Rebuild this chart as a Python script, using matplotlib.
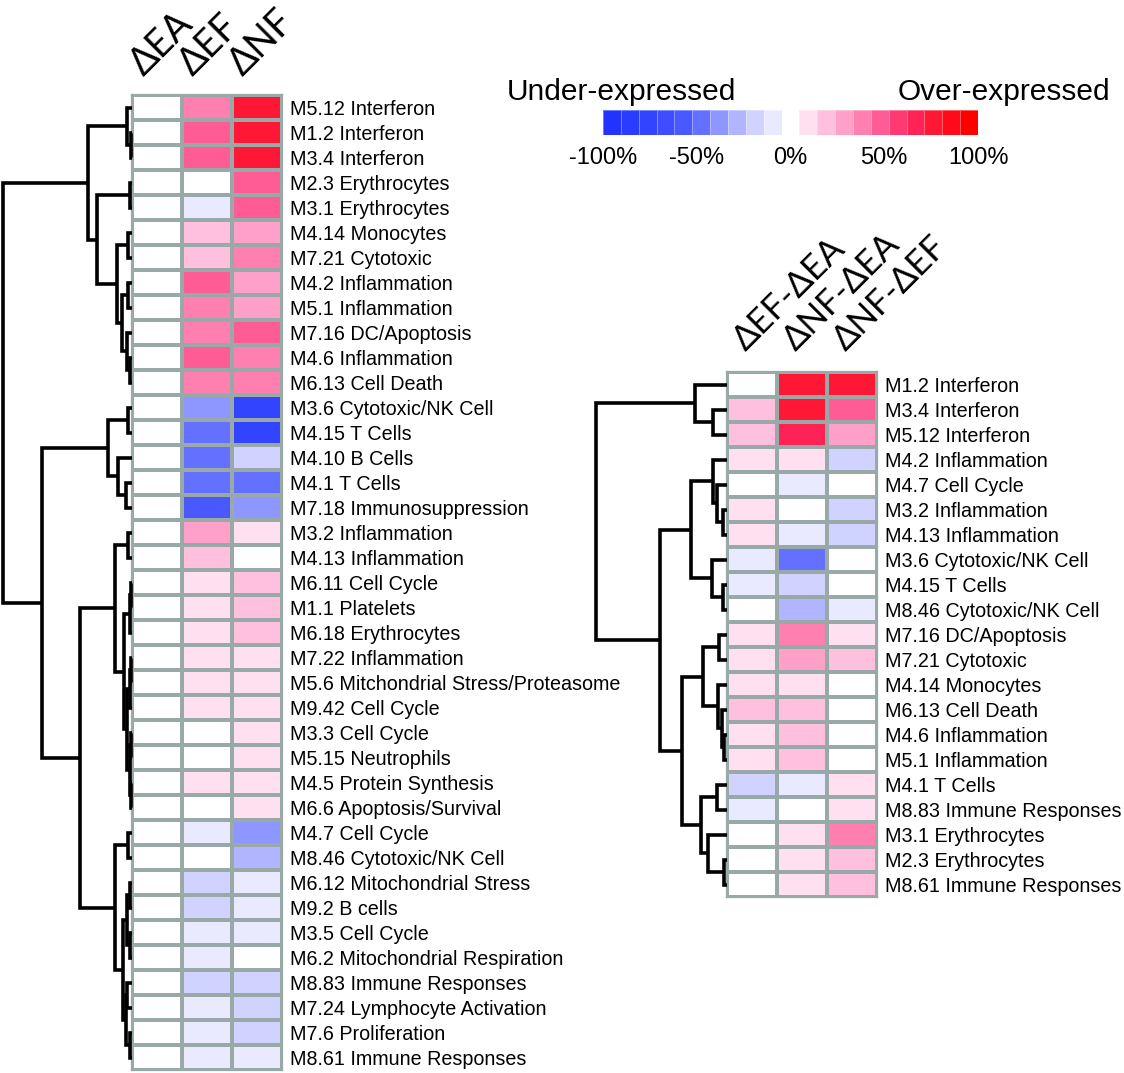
import numpy as np
import matplotlib.pyplot as plt
from matplotlib.colors import ListedColormap, BoundaryNorm
import matplotlib.transforms as mtransforms

plt.rcParams['font.family'] = ['Liberation Sans', 'DejaVu Sans']

W, H = 1124, 1073

# ---- left heatmap data (percent change) ----
left_modules = [
    "M5.12 Interferon", "M1.2 Interferon", "M3.4 Interferon", "M2.3 Erythrocytes",
    "M3.1 Erythrocytes", "M4.14 Monocytes", "M7.21 Cytotoxic", "M4.2 Inflammation",
    "M5.1 Inflammation", "M7.16 DC/Apoptosis", "M4.6 Inflammation", "M6.13 Cell Death",
    "M3.6 Cytotoxic/NK Cell", "M4.15 T Cells", "M4.10 B Cells", "M4.1 T Cells",
    "M7.18 Immunosuppression", "M3.2 Inflammation", "M4.13 Inflammation", "M6.11 Cell Cycle",
    "M1.1 Platelets", "M6.18 Erythrocytes", "M7.22 Inflammation",
    "M5.6 Mitchondrial Stress/Proteasome", "M9.42 Cell Cycle", "M3.3 Cell Cycle",
    "M5.15 Neutrophils", "M4.5 Protein Synthesis", "M6.6 Apoptosis/Survival",
    "M4.7 Cell Cycle", "M8.46 Cytotoxic/NK Cell", "M6.12 Mitochondrial Stress",
    "M9.2 B cells", "M3.5 Cell Cycle", "M6.2 Mitochondrial Respiration",
    "M8.83 Immune Responses", "M7.24 Lymphocyte Activation", "M7.6 Proliferation",
    "M8.61 Immune Responses",
]
left_cols = ["ΔEA", "ΔEF", "ΔNF"]
left_ea = [0] * 39
left_ef = [35, 45, 45, 0, -5, 15, 15, 45, 35, 35, 45, 35, -35, -45, -45, -45, -55, 25, 15,
           5, 5, 5, 5, 5, 5, 0, 0, 5, 0, -5, 0, -15, -15, -5, -5, -15, -5, -5, -5]
left_nf = [75, 75, 75, 45, 45, 25, 35, 25, 25, 45, 35, 35, -75, -75, -15, -45, -35, 5, 0,
           15, 15, 15, 5, 5, 5, 5, 5, 5, 5, -35, -25, -5, -5, -5, 0, -15, -15, -15, -5]

# ---- right heatmap data ----
right_modules = [
    "M1.2 Interferon", "M3.4 Interferon", "M5.12 Interferon", "M4.2 Inflammation",
    "M4.7 Cell Cycle", "M3.2 Inflammation", "M4.13 Inflammation", "M3.6 Cytotoxic/NK Cell",
    "M4.15 T Cells", "M8.46 Cytotoxic/NK Cell", "M7.16 DC/Apoptosis", "M7.21 Cytotoxic",
    "M4.14 Monocytes", "M6.13 Cell Death", "M4.6 Inflammation", "M5.1 Inflammation",
    "M4.1 T Cells", "M8.83 Immune Responses", "M3.1 Erythrocytes", "M2.3 Erythrocytes",
    "M8.61 Immune Responses",
]
right_cols = ["ΔEF-ΔEA", "ΔNF-ΔEA", "ΔNF-ΔEF"]
right_ef_ea = [0, 15, 15, 5, 0, 5, 5, -5, -5, 0, 5, 5, 5, 15, 5, 5, -15, -5, 0, 0, 0]
right_nf_ea = [75, 75, 65, 5, -5, 0, -5, -45, -15, -25, 35, 25, 5, 15, 15, 15, -5, 0, 5, 5, 5]
right_nf_ef = [75, 45, 25, -15, 0, -15, -15, 0, 0, -5, 5, 15, 0, 0, 0, 0, 5, 5, 35, 15, 15]

# ---- dendrograms: (child, child, merge height) with leaves = row index ----
left_tree = (
    ((0, (1, 2, 1), 5),
     ((3, 4, 2),
      ((5, 6, 4),
       ((7, 8, 4), (9, (10, 11, 2), 5), 10), 15), 35), 44),
    (((12, 13, 4), (14, (15, 16, 6), 14), 24),
     (((17, 18, 4),
       (((19, 20, 1), 21, 2),
        (((22, 23, 1), 24, 2), ((25, 26, 1), (27, 28, 1), 2), 5), 8), 17),
      ((29, 30, 4),
       (((31, 32, 2), (33, 34, 2), 5), ((35, 36, 5), (37, 38, 2), 6), 9), 17), 52), 90),
    129)

right_tree = (
    (0, (1, 2, 14), 32),
    (((3, (4, (5, 6, 4), 10), 14), (7, (8, 9, 4), 15), 36),
     (((10, 11, 8), (12, (13, (14, 15, 3), 5), 9), 24),
      ((16, 17, 10), (18, (19, 20, 3), 19), 26), 45), 67),
    131)

# ---- colour scale ----
blues = ["#2233ff", "#2a3cff", "#3344ff", "#3d4dff", "#4a58ff",
         "#6470ff", "#8e96ff", "#b1b5ff", "#d0d2ff", "#e9e9ff"]
reds = ["#ffe0f0", "#ffc0dd", "#ffa0c8", "#ff80b0", "#ff5c95",
        "#ff3a72", "#ff2255", "#ff1835", "#ff0a1a", "#ff0000"]
cmap = ListedColormap(blues + ["#ffffff"] + reds)
bounds = list(range(-100, -9, 10)) + [-1, 1] + list(range(10, 101, 10))
norm = BoundaryNorm(bounds, cmap.N)
legend_levels = list(range(-95, 0, 10)) + [0] + list(range(5, 100, 10))

grid_col = "#98a9a8"


def px_axes(fig, x0, y0, x1, y1):
    return fig.add_axes([x0 / W, 1 - y1 / H, (x1 - x0) / W, (y1 - y0) / H])


def draw_tree(ax, node):
    if isinstance(node, int):
        return node + 0.5, 0.0
    a, b, h = node
    ya, ha = draw_tree(ax, a)
    yb, hb = draw_tree(ax, b)
    ax.plot([ha, h, h, hb], [ya, ya, yb, yb], color="black", lw=2.6,
            solid_joinstyle="miter", solid_capstyle="butt", clip_on=False)
    return (ya + yb) / 2, h


def heatmap(fig, box, data, rows, cols, label_size, label_dx, label_dy):
    ax = px_axes(fig, *box)
    mat = np.array(data).T
    ax.pcolormesh(mat, cmap=cmap, norm=norm, edgecolors=grid_col, linewidth=1.6)
    ax.set_xlim(0, mat.shape[1])
    ax.set_ylim(mat.shape[0], 0)
    ax.yaxis.tick_right()
    ax.set_yticks(np.arange(len(rows)) + 0.5)
    ax.set_yticklabels(rows, fontsize=14.2)
    ax.tick_params(axis="y", length=0, pad=6)
    ax.set_xticks([])
    for s in ax.spines.values():
        s.set_color(grid_col)
        s.set_linewidth(1.6)
    off = mtransforms.ScaledTranslation(label_dx / 100, label_dy / 100, fig.dpi_scale_trans)
    for j, c in enumerate(cols):
        ax.text(j + 0.5, 0, c, transform=ax.transData + off, rotation=45,
                rotation_mode="anchor", ha="left", va="baseline",
                fontsize=label_size, family=["Lato", "Liberation Sans", "DejaVu Sans"])
    return ax


fig = plt.figure(figsize=(W / 100, H / 100), dpi=100)

# left block
heatmap(fig, (132, 95, 282, 1070), [left_ea, left_ef, left_nf], left_modules,
        left_cols, 27, -14, 18)
axd = px_axes(fig, 0, 95, 132, 1070)
draw_tree(axd, left_tree)
axd.set_xlim(132, 0)
axd.set_ylim(len(left_modules), 0)
axd.axis("off")

# right block
heatmap(fig, (727, 372, 877, 897), [right_ef_ea, right_nf_ea, right_nf_ef],
        right_modules, right_cols, 25, -7, 20)
axr = px_axes(fig, 594, 372, 727, 897)
draw_tree(axr, right_tree)
axr.set_xlim(133, 0)
axr.set_ylim(len(right_modules), 0)
axr.axis("off")

# colour legend
axl = px_axes(fig, 603, 110, 978, 135)
axl.pcolormesh(np.linspace(-100, 100, 22), [0, 1], np.array([legend_levels]),
               cmap=cmap, norm=norm, edgecolors=(1, 1, 1, 0.35), linewidth=0.6)
axl.set_xlim(-100, 100)
axl.set_ylim(0, 1)
axl.set_yticks([])
axl.set_xticks([-100, -50, 0, 50, 100])
axl.set_xticklabels(["-100%", "-50%", "0%", "50%", "100%"], fontsize=17)
axl.tick_params(axis="x", length=0, pad=9)
for s in axl.spines.values():
    s.set_visible(False)

fig.text(507 / W, 1 - 100 / H, "Under-expressed", fontsize=21.5, ha="left", va="baseline")
fig.text(1110 / W, 1 - 100 / H, "Over-expressed", fontsize=21.5, ha="right", va="baseline")

fig.savefig("out.png", dpi=100)
